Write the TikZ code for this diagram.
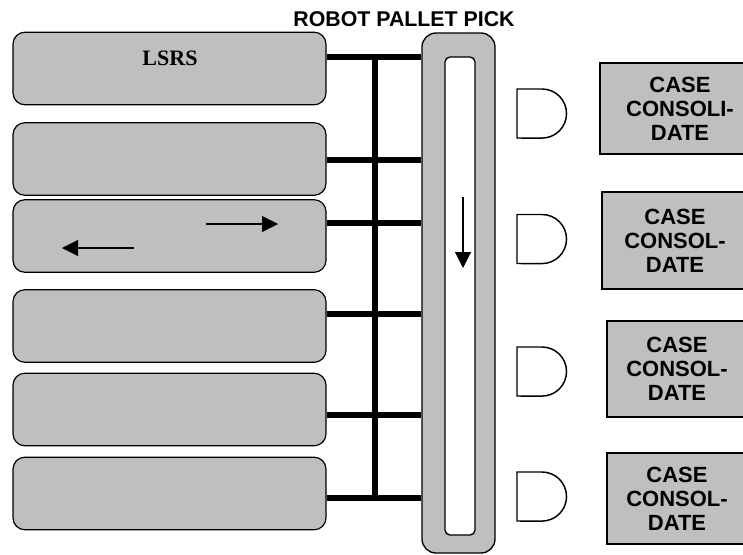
\documentclass[tikz,border=0pt]{standalone}
\usepackage{fontspec}
\setmainfont{Liberation Sans}
\newfontfamily\lsrsfont{Liberation Serif}
\usetikzlibrary{arrows.meta,positioning}

\begin{document}
\begin{tikzpicture}
	% Styles
	[
	x=0.75pt, y=-0.75pt,
	lane/.style={rectangle,rounded corners=9pt,draw=black,line width=0.9pt,fill=gray!50,inner sep=0pt,minimum width=234.75pt,minimum height=54.5pt},
	pallet/.style={rectangle,rounded corners=10.5pt,draw=black,line width=1pt,fill=gray!50,inner sep=0pt,minimum width=54.75pt,minimum height=390pt},
	slot/.style={rectangle,rounded corners=3.75pt,draw=black,line width=1pt,fill=white,inner sep=0pt,minimum width=22.5pt,minimum height=358.5pt},
	casebox/.style={rectangle,draw=black,line width=1.5pt,fill=gray!50,inner sep=0pt,align=center,font=\fontsize{16.5}{17.9}\selectfont\bfseries},
	bus/.style={line width=4pt},
	gate/.style={draw=black,line width=1.1pt},
	flow/.style={line width=0.8pt,-{Triangle[length=12pt,width=12pt]}},
	]
	\useasboundingbox (0,0) rectangle (743,554);

	% Nodes
	\node at (404,26)	(title)	[anchor=base,font=\fontsize{16}{18}\selectfont\bfseries] {ROBOT PALLET PICK};
	\node at (169.5,68.5)	(l1)	[lane] {};
	\node at (169.5,159)	(l2)	[lane] {};
	\node at (169.5,236)	(l3)	[lane] {};
	\node at (169.5,326)	(l4)	[lane] {};
	\node at (169.5,409.5)	(l5)	[lane] {};
	\node at (169.5,493.5)	(l6)	[lane] {};
	\node at (170,65.5)	(lsrs)	[anchor=base,font=\fontsize{16.5}{18}\lsrsfont\bfseries] {LSRS};
	\node at (458.5,293)	(pick)	[pallet] {};
	\node at (460,296)	(slot)	[slot] {};
	\node at (680,108.5)	(c1)	[casebox,minimum width=120pt,minimum height=68.25pt] {CASE\\CONSOLI-\\DATE};
	\node at (675,240.5)	(c2)	[casebox,minimum width=109.5pt,minimum height=72.75pt] {CASE\\CONSOL-\\DATE};
	\node at (677,369)	(c3)	[casebox,minimum width=105pt,minimum height=72pt] {CASE\\CONSOL-\\DATE};
	\node at (677,498.5)	(c4)	[casebox,minimum width=105pt,minimum height=68.25pt] {CASE\\CONSOL-\\DATE};

	% Bus points
	\coordinate (b1) at (375,57);
	\coordinate (b2) at (375,160);
	\coordinate (b3) at (375,223);
	\coordinate (b4) at (375,314);
	\coordinate (b5) at (375,415);
	\coordinate (b6) at (375,498);

	% Connections
	\draw[bus] (b1) -- (b6);
	\draw[bus] (b1 -| l1.east) -- (b1 -| pick.west);
	\draw[bus] (b2 -| l2.east) -- (b2 -| pick.west);
	\draw[bus] (b3 -| l3.east) -- (b3 -| pick.west);
	\draw[bus] (b4 -| l4.east) -- (b4 -| pick.west);
	\draw[bus] (b5 -| l5.east) -- (b5 -| pick.west);
	\draw[bus] (b6 -| l6.east) -- (b6 -| pick.west);

	% Direction arrows
	\coordinate (r1) at (206,224);
	\coordinate (r2) at (278,224);
	\coordinate (s1) at (134,248);
	\coordinate (s2) at (62,248);
	\coordinate (d1) at (463,197);
	\coordinate (d2) at (463,268);
	\draw[flow] (r1) -- (r2);
	\draw[flow] (s1) -- (s2);
	\draw[flow] (d1) -- (d2);

	% Gates
	\foreach \c in {113.5,239,371.5,496.5}
		\draw[gate] (517,{\c-24.5}) -- (542,{\c-24.5}) arc[start angle=90,end angle=-90,radius=18.4pt] -- (517,{\c+24.5}) -- cycle;

\end{tikzpicture}
\end{document}
